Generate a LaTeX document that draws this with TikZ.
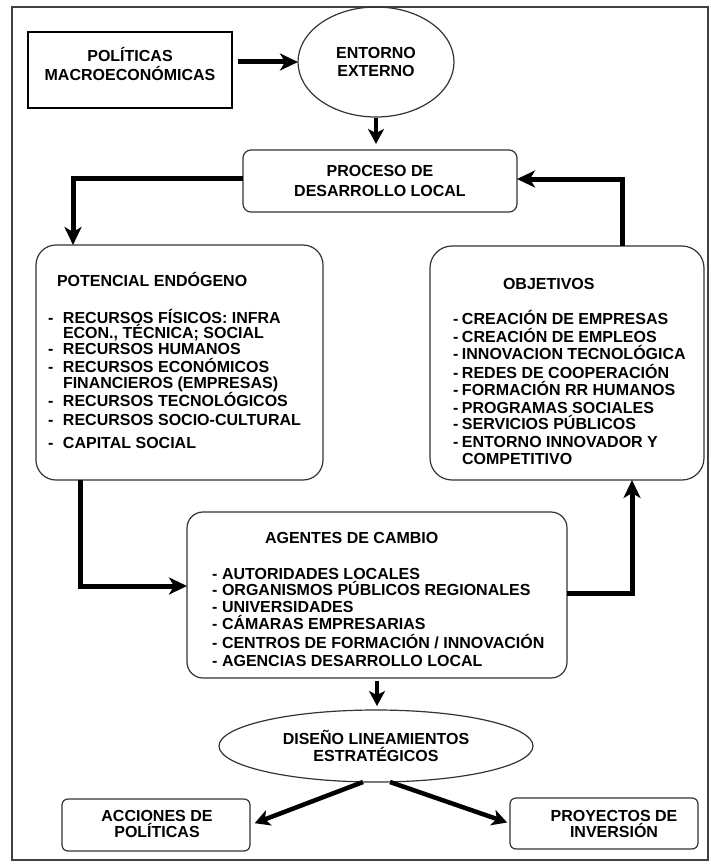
\documentclass[tikz,border=0pt]{standalone}
\usepackage{fontspec}
\setmainfont{Liberation Sans}
\usetikzlibrary{shapes.geometric,arrows.meta}
\newcommand\dsh[1]{\llap{\makebox[#1][l]{-}}}
\begin{document}
\begin{tikzpicture}[x=1pt,y=-1pt,
  every node/.style={font=\fontsize{16}{17}\selectfont\bfseries, inner sep=0pt, outer sep=0pt},
  box/.style={draw=black!80, line width=1.2pt, rounded corners=#1},
  oval/.style={draw=black!80, line width=1.2pt, ellipse},
  conn/.style={line width=5pt, -{Stealth[length=18pt,width=17pt,inset=5pt]}},
  sconn/.style={line width=4.5pt, -{Stealth[length=15pt,width=16pt,inset=4pt]}},
  lst/.style={anchor=base west},
  ctext/.style={align=center},
]
\useasboundingbox (0,0) rectangle (710,864);
\draw[black!75, line width=1.2pt] (12,7) rectangle (708,860);

% top
\node[draw=black, line width=1.8pt, minimum width=204pt, minimum height=76pt] (pol) at (130,70) {};
\node[ctext, font=\fontsize{16}{18.5}\selectfont\bfseries] (polt) at (130,64) {POLÍTICAS\\MACROECONÓMICAS};
\node[oval, minimum width=156pt, minimum height=110pt, ctext, font=\fontsize{16}{18.5}\selectfont\bfseries] (ent) at (376,62) {ENTORNO\\EXTERNO};
\node[box=8pt, minimum width=274pt, minimum height=62pt, ctext, font=\fontsize{16}{20}\selectfont\bfseries] (proc) at (380,181) {PROCESO DE\\DESARROLLO LOCAL};

% main boxes
\node[box=20pt, minimum width=287pt, minimum height=235pt] (pot) at (179.5,362.5) {};
\node[box=22pt, minimum width=274pt, minimum height=234pt] (obj) at (567,363) {};
\node[box=16pt, minimum width=380pt, minimum height=166pt] (age) at (377,595) {};

\node[lst] (pott) at (57,286) {POTENCIAL ENDÓGENO};
\foreach \yy/\tx [count=\i] in {
  323/{\dsh{15pt}RECURSOS FÍSICOS: INFRA},
  338/{ECON., TÉCNICA; SOCIAL},
  354/{\dsh{15pt}RECURSOS HUMANOS},
  372/{\dsh{15pt}RECURSOS ECONÓMICOS},
  388/{FINANCIEROS (EMPRESAS)},
  406/{\dsh{15pt}RECURSOS TECNOLÓGICOS},
  425/{\dsh{15pt}RECURSOS SOCIO-CULTURAL},
  448/{\dsh{15pt}CAPITAL SOCIAL}}
  \node[lst] (pl\i) at (63,\yy) {\tx};

\node[lst] (objt) at (503,289) {OBJETIVOS};
\foreach \yy/\tx [count=\i] in {
  324/{\dsh{9pt}CREACIÓN DE EMPRESAS},
  342/{\dsh{9pt}CREACIÓN DE EMPLEOS},
  359/{\dsh{9pt}INNOVACION TECNOLÓGICA},
  378/{\dsh{9pt}REDES DE COOPERACIÓN},
  395/{\dsh{9pt}FORMACIÓN RR HUMANOS},
  413/{\dsh{9pt}PROGRAMAS SOCIALES},
  429/{\dsh{9pt}SERVICIOS PÚBLICOS},
  447/{\dsh{9pt}ENTORNO INNOVADOR Y},
  464/{COMPETITIVO}}
  \node[lst] (ol\i) at (462,\yy) {\tx};

\node[lst] (aget) at (265,543) {AGENTES DE CAMBIO};
\foreach \yy/\tx [count=\i] in {
  579/{\dsh{10pt}AUTORIDADES LOCALES},
  595/{\dsh{10pt}ORGANISMOS PÚBLICOS REGIONALES},
  612/{\dsh{10pt}UNIVERSIDADES},
  629/{\dsh{10pt}CÁMARAS EMPRESARIAS},
  648/{\dsh{10pt}CENTROS DE FORMACIÓN / INNOVACIÓN},
  666/{\dsh{10pt}AGENCIAS DESARROLLO LOCAL}}
  \node[lst] (al\i) at (222,\yy) {\tx};

% bottom
\node[oval, minimum width=314pt, minimum height=72pt, ctext, font=\fontsize{16}{16.5}\selectfont\bfseries] (dis) at (376,746) {DISEÑO LINEAMIENTOS\\ESTRATÉGICOS};
\node[box=6pt, minimum width=188pt, minimum height=52pt] (acc) at (156,825) {};
\node[ctext, font=\fontsize{16}{16}\selectfont\bfseries] (acct) at (157,824) {ACCIONES DE\\POLÍTICAS};
\node[box=6pt, minimum width=188pt, minimum height=51pt] (pro) at (604,823.5) {};
\node[ctext, font=\fontsize{16}{16}\selectfont\bfseries] (prot) at (614,824) {PROYECTOS DE\\INVERSIÓN};

% connectors
\draw[conn, shorten <=6pt] (pol.east |- ent.west) -- (ent.west);
\draw[sconn, shorten <=1pt, shorten >=6pt] (ent.south) -- (ent.south |- proc.north);
\draw[conn] ([yshift=3pt]proc.west) -| ([xshift=37pt]pot.north west);
\draw[conn] ([xshift=55pt]obj.north) |- ([yshift=2pt]proc.east);
\draw[conn] ([xshift=44pt]pot.south west) |- ([yshift=9pt]age.west);
\draw[conn] ([yshift=2pt]age.east) -| ([xshift=65pt]obj.south);
\draw[sconn, shorten <=3pt, shorten >=4pt] (age.south) -- (age.south |- dis.north);
\draw[sconn, shorten >=5pt] ([xshift=-13pt]dis.south) -- (acc.east);
\draw[sconn, shorten >=3pt] ([xshift=14pt]dis.south) -- (pro.west);
\end{tikzpicture}
\end{document}
